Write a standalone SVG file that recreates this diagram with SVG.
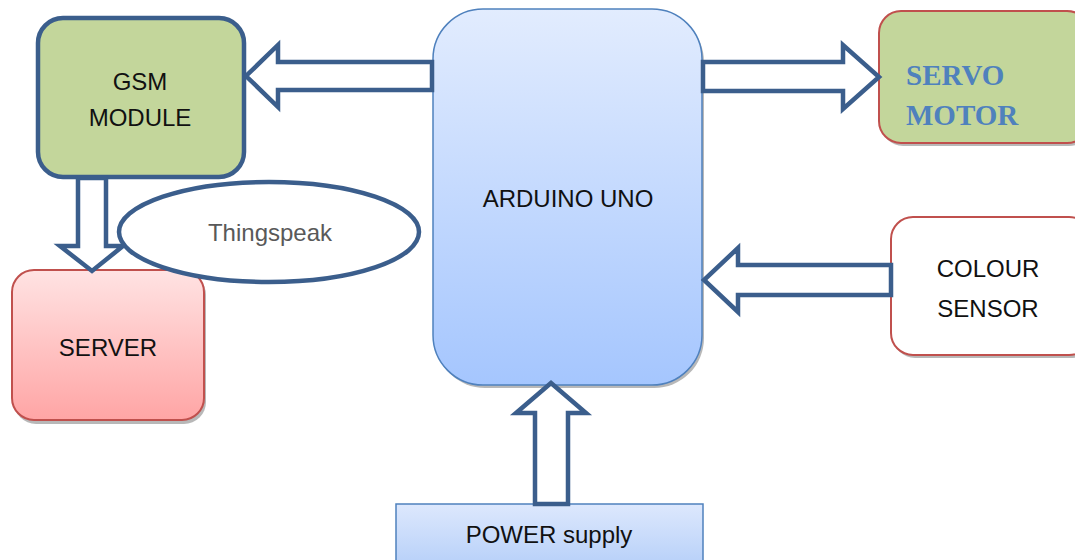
<svg xmlns="http://www.w3.org/2000/svg" width="1075" height="560" viewBox="0 0 1075 560">
<defs>
<linearGradient id="gBlue" x1="0" y1="0" x2="0" y2="1">
<stop offset="0" stop-color="#e2ecfe"/>
<stop offset="1" stop-color="#a5c6fe"/>
</linearGradient>
<linearGradient id="gRed" x1="0" y1="0" x2="0" y2="1">
<stop offset="0" stop-color="#ffe3e3"/>
<stop offset="1" stop-color="#ffa5a5"/>
</linearGradient>
<linearGradient id="gPow" x1="0" y1="0" x2="0" y2="1">
<stop offset="0" stop-color="#dde8fd"/>
<stop offset="1" stop-color="#b2cdf8"/>
</linearGradient>
</defs>
<style>
.arrow{fill:#ffffff;stroke:#3b5e8c;stroke-width:4.5;stroke-linejoin:miter}
.shadow{fill:#9a9a9a;opacity:0.7}
.lbl{font-family:"Liberation Sans",Arial,sans-serif;font-size:24px;fill:#111111;text-anchor:middle}
.red{stroke:#c0504d;stroke-width:2}
</style>
<rect width="1075" height="560" fill="#ffffff"/>

<g id="arduino">
<rect class="shadow" x="435" y="12" width="269" height="376" rx="50"/>
<rect x="433" y="9" width="269" height="376" rx="50" fill="url(#gBlue)" stroke="#4f81bd" stroke-width="1.5"/>
<text class="lbl" x="568" y="207">ARDUINO UNO</text>
</g>

<g id="gsm">
<rect x="38" y="18" width="206" height="159" rx="25" fill="#c3d69b" stroke="#3b5e8c" stroke-width="4.5"/>
<text class="lbl" x="140" y="90">GSM</text>
<text class="lbl" x="140" y="126">MODULE</text>
</g>

<g id="server">
<rect class="shadow" x="14" y="273" width="192" height="151" rx="22"/>
<rect x="12" y="270" width="192" height="150" rx="22" fill="url(#gRed)" class="red"/>
<text class="lbl" x="108" y="356" font-size="23">SERVER</text>
</g>

<g id="servo">
<rect class="shadow" x="881" y="14" width="210" height="132" rx="22"/>
<rect x="879" y="11" width="210" height="132" rx="22" fill="#c3d69b" class="red"/>
<text x="906" y="85" font-family="Liberation Serif,'Times New Roman',serif" font-weight="bold" font-size="29" fill="#4f81bd">SERVO</text>
<text x="906" y="125" font-family="Liberation Serif,'Times New Roman',serif" font-weight="bold" font-size="29" fill="#4f81bd">MOTOR</text>
</g>

<g id="colour">
<rect class="shadow" x="893" y="220" width="200" height="138" rx="22"/>
<rect x="891" y="217" width="200" height="138" rx="22" fill="#ffffff" class="red"/>
<text class="lbl" x="988" y="277" font-size="25">COLOUR</text>
<text class="lbl" x="988" y="317" font-size="25">SENSOR</text>
</g>

<g id="power">
<rect x="396" y="504" width="307" height="70" fill="url(#gPow)" stroke="#4f81bd" stroke-width="1.5"/>
<text class="lbl" x="549" y="543" font-size="25">POWER supply</text>
</g>

<g id="connectors">
<polygon class="arrow" points="432,62 278,62 278,45 246,76 278,107 278,90 432,90"/>
<polygon class="arrow" points="703,62 843,62 843,45 879,77 843,109 843,91 703,91"/>
<polygon class="arrow" points="891,265 738,265 738,248 704,280 738,312 738,295 891,295"/>
<polygon class="arrow" points="535,504 535,413 516,413 551,383 586,413 568,413 568,504"/>
<polygon class="arrow" points="78,178 78,246 60,246 92,271 123,246 106,246 106,178"/>
</g>

<g id="thingspeak">
<ellipse cx="269" cy="232" rx="150" ry="50" fill="#ffffff" stroke="#3b5e8c" stroke-width="4.5"/>
<text class="lbl" x="270" y="241" font-size="25" fill="#595959" style="fill:#595959">Thingspeak</text>
</g>
</svg>
